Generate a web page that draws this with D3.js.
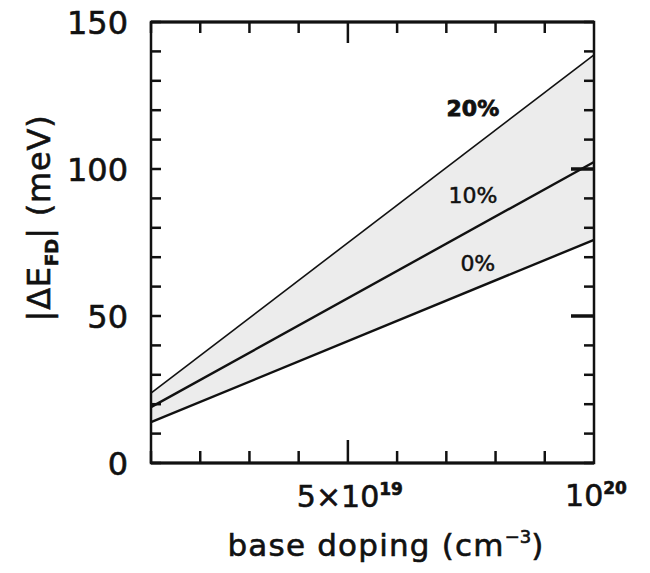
<!DOCTYPE html>
<html><head><meta charset="utf-8">
<script src="https://cdn.jsdelivr.net/npm/d3@7"></script>
<style>body{margin:0;background:#fff}svg{display:block}</style>
</head><body>
<svg id="c" width="650" height="573"></svg>
<script>
// ---- data ----
const doping = [1e19, 1e20];
const series0 = [13.9, 75.9];   // 0%
const series10 = [19.0, 102.4]; // 10%
const series20 = [23.8, 138.8]; // 20%
const seriesNames = ["0%", "10%", "20%"];
const xTicks = [1e19, 2e19, 3e19, 4e19, 5e19, 6e19, 7e19, 8e19, 9e19, 1e20];
const xMajor = [5e19];
const yTicks = [0, 10, 20, 30, 40, 50, 60, 70, 80, 90, 100, 110, 120, 130, 140, 150];
const yLabels = [0, 50, 100, 150];
const rightMajor = [50, 100];

const L = 151, R = 594, T = 22, B = 463;
const x = d3.scaleLinear().domain([1e19, 1e20]).range([L, R]);
const y = d3.scaleLinear().domain([0, 150]).range([B, T]);
const svg = d3.select("#c");
const FONT = "'DejaVu Sans', sans-serif";
const INK = "#111";

// shaded band between 0% and 20%
const band = doping.map((d, i) => ({x: d, lo: series0[i], hi: series20[i]}));
svg.append("path").datum(band)
  .attr("fill", "#ececec")
  .attr("d", d3.area().x(d => x(d.x)).y0(d => y(d.lo)).y1(d => y(d.hi)));

// lines
const allSeries = [series0, series10, series20];
const line = d3.line().x((d, i) => x(doping[i])).y(d => y(d));
svg.selectAll("path.ln").data(allSeries).join("path").attr("class", "ln")
  .attr("fill", "none").attr("stroke", INK).attr("stroke-width", d => d === series20 ? 1.6 : 2.4)
  .attr("d", line);

// frame
svg.append("rect").attr("x", L).attr("y", T).attr("width", R - L).attr("height", B - T)
  .attr("fill", "none").attr("stroke", INK).attr("stroke-width", 2.5);
svg.append("line").attr("x1", L).attr("x2", R).attr("y1", T).attr("y2", T)
  .attr("stroke", INK).attr("stroke-width", 3.2);
svg.append("line").attr("x1", L).attr("x2", R).attr("y1", B).attr("y2", B)
  .attr("stroke", INK).attr("stroke-width", 3.2);

// ticks
const g = svg.append("g").attr("stroke", INK).attr("stroke-width", 2.5);
g.selectAll("line.bt").data(xTicks.slice(0, -1)).join("line").attr("class", "bt")
  .attr("x1", d => x(d)).attr("x2", d => x(d)).attr("y1", B)
  .attr("y2", d => B - (xMajor.includes(d) ? 23 : 12));
g.selectAll("line.tt").data(xTicks.slice(0, -1)).join("line").attr("class", "tt")
  .attr("x1", d => x(d)).attr("x2", d => x(d)).attr("y1", T)
  .attr("y2", d => T + (xMajor.includes(d) ? 21 : 11));
g.selectAll("line.lt").data(yTicks).join("line").attr("class", "lt")
  .attr("x1", L).attr("x2", L + 10).attr("y1", d => y(d)).attr("y2", d => y(d));
g.selectAll("line.rt").data(yTicks).join("line").attr("class", "rt")
  .attr("x1", R).attr("x2", d => R - (rightMajor.includes(d) ? 23 : 10))
  .attr("y1", d => y(d)).attr("y2", d => y(d))
  .attr("stroke-width", d => rightMajor.includes(d) ? 3.5 : 2.5);

// y tick labels
svg.selectAll("text.yl").data(yLabels).join("text").attr("class", "yl")
  .attr("x", 128).attr("y", d => y(d)).attr("dy", "0.36em")
  .attr("text-anchor", "end").attr("font-family", FONT).attr("font-size", 32)
  .attr("fill", INK).attr("stroke", INK).attr("stroke-width", 0.6).text(d => d);

// x tick labels
const xl1 = svg.append("text").attr("x", x(5e19) + 2).attr("y", 507)
  .attr("text-anchor", "middle").attr("font-family", FONT).attr("font-size", 30)
  .attr("fill", INK).attr("stroke", INK).attr("stroke-width", 0.6);
xl1.append("tspan").text("5×10");
xl1.append("tspan").attr("dy", -12).attr("font-size", 17).attr("font-weight", "bold").text("19");
const xl2 = svg.append("text").attr("x", x(1e20) + 2).attr("y", 506)
  .attr("text-anchor", "middle").attr("font-family", FONT).attr("font-size", 30)
  .attr("fill", INK).attr("stroke", INK).attr("stroke-width", 0.6);
xl2.append("tspan").text("10");
xl2.append("tspan").attr("dy", -12).attr("font-size", 17).attr("font-weight", "bold").text("20");

// x axis title
const xt = svg.append("text").attr("x", 386).attr("y", 556)
  .attr("text-anchor", "middle").attr("font-family", FONT).attr("font-size", 31)
  .attr("letter-spacing", 1.2)
  .attr("fill", INK).attr("stroke", INK).attr("stroke-width", 0.6);
xt.append("tspan").text("base doping (cm");
xt.append("tspan").attr("dy", -13).attr("font-size", 18).attr("letter-spacing", 0).text("−3");
xt.append("tspan").attr("dy", 13).text(")");

// y axis title
const yt = svg.append("text").attr("transform", "translate(50,218) rotate(-90)")
  .attr("text-anchor", "middle").attr("font-family", FONT).attr("font-size", 32)
  .attr("letter-spacing", 0.8)
  .attr("fill", INK).attr("stroke", INK).attr("stroke-width", 0.6);
yt.append("tspan").text("|ΔE");
yt.append("tspan").attr("dy", 8).attr("font-size", 18).attr("font-weight", "bold").attr("letter-spacing", 0).text("FD");
yt.append("tspan").attr("dy", -8).text("| (meV)");

// series labels
const labelPos = [{v: 68, xv: 7.64e19}, {v: 91.2, xv: 7.54e19}, {v: 120.7, xv: 7.54e19}];
svg.selectAll("text.sl").data(seriesNames).join("text").attr("class", "sl")
  .attr("x", (d, i) => x(labelPos[i].xv)).attr("y", (d, i) => y(labelPos[i].v))
  .attr("text-anchor", "middle").attr("dy", "0.36em")
  .attr("font-family", FONT).attr("font-size", 22)
  .attr("font-weight", (d, i) => i === 2 ? "bold" : "normal")
  .attr("fill", INK).attr("stroke", INK).attr("stroke-width", (d, i) => i === 2 ? 0.8 : 0.5)
  .text(d => d);
</script>
</body></html>
